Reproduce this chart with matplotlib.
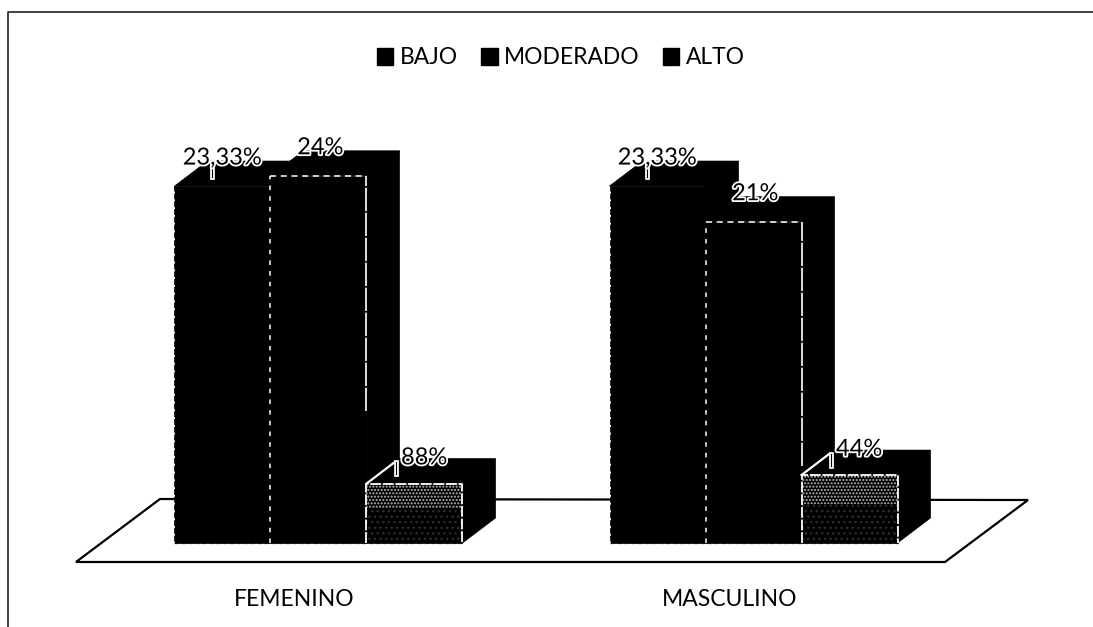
#!/usr/bin/env python3
import matplotlib
matplotlib.use('Agg')
import matplotlib.pyplot as plt
import matplotlib.patheffects as pe
from matplotlib.patches import Patch, Polygon

categories = ['FEMENINO', 'MASCULINO']
series_names = ['BAJO', 'MODERADO', 'ALTO']
bajo = [23.33, 23.33]
moderado = [24, 21]
alto = [3.88, 4.44]
labels_bajo = ['23,33%', '23,33%']
labels_moderado = ['24%', '21%']
labels_alto = ['88%', '44%']

W, H = 1093, 627
PX_X = 435.0    # pixels per category
PX_Y = 15.3     # pixels per percent
X0, Y0 = 318.5, 543.0

plt.rcParams['font.family'] = ['Lato', 'DejaVu Sans']
fig = plt.figure(figsize=(W / 100, H / 100), dpi=100)
ax = fig.add_axes([0, 0, 1, 1])
ax.set_xlim(-X0 / PX_X, (W - X0) / PX_X)
ax.set_ylim(-(H - Y0) / PX_Y, Y0 / PX_Y)
ax.axis('off')

bar_w = 96 / PX_X
dx, dy = 33 / PX_X, 25 / PX_Y


def px(x, y):
    # image pixel to data coords, for decoration only
    return (x - X0) / PX_X, (Y0 - y) / PX_Y


# outer frame
ax.plot(*zip(px(8, 627), px(8, 12), px(1093, 12)), color='#333333', lw=1.3, zorder=1)

# floor
floor = Polygon([px(76, 562), px(945, 562), px(1028, 500), px(160, 499)],
                closed=True, fc='white', ec='black', lw=1.6, zorder=1)
ax.add_patch(floor)


def bar3d(x, v):
    ax.bar(x, v, bar_w, bottom=0, color='black', ec='black', lw=0.5, zorder=3)
    l, r = x - bar_w / 2, x + bar_w / 2
    ax.fill([l, r, r + dx, l + dx], [v, v, v + dy, v + dy], fc='black', ec='black', lw=0.5, zorder=3)
    ax.fill([r, r + dx, r + dx, r], [0, dy, v + dy, v], fc='black', ec='black', lw=0.5, zorder=3)
    return l, r


halo = [pe.withStroke(linewidth=2.6, foreground='white')]
leader = [pe.withStroke(linewidth=3.4, foreground='white')]
right_edge_end = [0.36, 0.24]   # fraction of bar height where the white edge fades out
for i, cat in enumerate(categories):
    l1, r1 = bar3d(i - bar_w, bajo[i])
    l2, r2 = bar3d(i, moderado[i])
    l3, r3 = bar3d(i + bar_w, alto[i])

    # scan speckle on the third bar
    a = alto[i]
    ax.bar(i + bar_w, a * 0.42, bar_w, bottom=a * 0.58, facecolor='none', edgecolor='#b8b8b8',
           lw=0, hatch='.....', zorder=4)
    ax.bar(i + bar_w, a * 0.58, bar_w, bottom=0, facecolor='none', edgecolor='#2e2e2e',
           lw=0, hatch='...', zorder=4)

    # white borders of the faces
    ax.plot([l2, l2], [0, moderado[i]], color='white', lw=1.1, ls=(0, (3, 4)), zorder=5)
    ax.plot([l2, r2], [moderado[i], moderado[i]], color='white', lw=1.1, ls=(0, (4, 3)), zorder=5)
    ax.plot([r2, r2], [moderado[i] * right_edge_end[i], moderado[i]], color='white', lw=1.2,
            ls=(0, (14, 1)), zorder=5)
    ax.plot([l3, l3, r3, r3], [0, a, a, 0], color='white', lw=1.3, ls=(0, (6, 1)), zorder=5)
    ax.plot([l1, l1], [0, bajo[i]], color='white', lw=0.7, ls=(0, (2, 6)), zorder=5)
    ax.plot([l1, r3], [0, 0], color='#888888', lw=1.0, ls=(0, (3, 2)), zorder=2)

    # leader lines
    ax.plot([i - bar_w - 0.023, i - bar_w - 0.023], [bajo[i] + 0.6, bajo[i] + 1.5],
            color='black', lw=0.8, path_effects=leader, zorder=5)
    ax.plot([l3, l3 + dx * 0.85], [a, a + 1.4], color='white', lw=1.6, zorder=5)
    ax.plot([l3 + dx * 0.9, l3 + dx * 0.9], [a + 1.4, a + 0.6],
            color='black', lw=0.8, path_effects=leader, zorder=5)

    # value labels
    off = 28 / PX_Y
    ax.text(i - bar_w, bajo[i] + off, labels_bajo[i], ha='center', va='center', fontsize=17,
            color='black', path_effects=halo, zorder=6)
    ax.text(i + 0.004, moderado[i] + off, labels_moderado[i], ha='center', va='center', fontsize=17,
            color='black', path_effects=halo, zorder=6)
    ax.text(i + bar_w + 0.022, a + off * 0.92, labels_alto[i], ha='center', va='center', fontsize=17,
            color='black', path_effects=halo, zorder=6)

    # category label
    ax.text(i - 24 / PX_X, -56 / PX_Y, cat, ha='center', va='center', fontsize=16.5, color='black')

handles = [Patch(fc='black', ec='black', label=n) for n in series_names]
ax.legend(handles=handles, ncol=3, loc='center', bbox_to_anchor=(561 / W, 1 - 58 / H),
          bbox_transform=fig.transFigure, frameon=False, fontsize=16.4,
          handlelength=0.72, handleheight=0.72, handletextpad=0.3, columnspacing=1.0)

fig.savefig('out.png', dpi=100)
